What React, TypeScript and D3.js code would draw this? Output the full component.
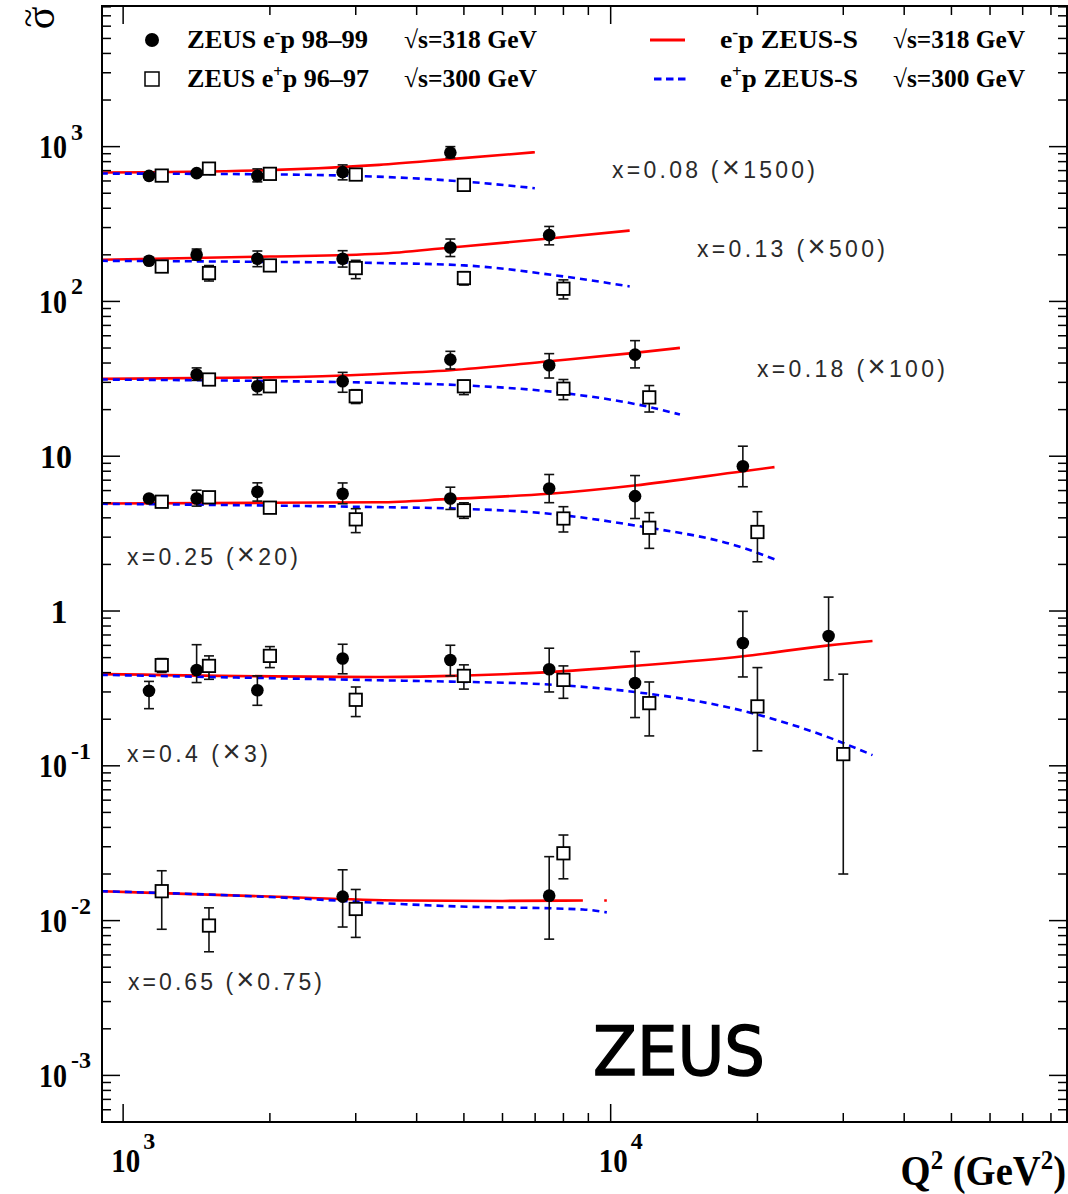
import React from 'react';
import * as d3 from 'd3';

const W = 1068, H = 1194;
const frame = { left: 102, right: 1067, top: 6, bottom: 1122 };

// axis ranges (Q2 in GeV^2, reduced cross section)
const q2Domain = [905, 86300];
const sigmaDomain = [5e-4, 8100];

// ZEUS e-p 98-99 : [Q2, sigma, +err, -err]
const emX008 = [[1130, 647, 22, 22], [1415, 674, 24, 24], [1885, 647, 71, 55], [2820, 684, 78, 74], [4690, 915, 85, 69]];
const emX013 = [[1130, 183, 8, 8], [1415, 200, 18, 15], [1885, 188.7, 23, 21], [2820, 188.7, 24, 22], [4690, 223, 30, 28], [7480, 268, 37, 36]];
const emX018 = [[1415, 33.7, 3.5, 2.8], [1885, 28.3, 3.8, 3.3], [2820, 30.5, 4.3, 4.6], [4690, 42.1, 5.5, 5.5], [7480, 38.7, 7.3, 6.7], [11220, 45.3, 10.5, 8.1]];
const emX025 = [[1130, 5.33, 0.2, 0.2], [1415, 5.33, 0.7, 0.57], [1885, 5.89, 0.84, 0.76], [2820, 5.72, 1.0, 0.79], [4690, 5.33, 0.98, 0.8], [7480, 6.19, 1.43, 1.18], [11220, 5.52, 1.98, 1.56], [18670, 8.61, 3.0, 2.26]];
const emX040 = [[1130, 0.305, 0.046, 0.071], [1415, 0.416, 0.19, 0.071], [1885, 0.308, 0.073, 0.062], [2820, 0.493, 0.117, 0.1], [4690, 0.483, 0.118, 0.102], [7480, 0.421, 0.154, 0.121], [11220, 0.343, 0.204, 0.138], [18670, 0.622, 0.373, 0.247], [27990, 0.69, 0.54, 0.331]];
const emX065 = [[2820, 0.01429, 0.007, 0.0052], [7480, 0.01449, 0.0114, 0.0069]];

// ZEUS e+p 96-97 : [Q2, sigma, +err, -err]
const epX008 = [[1200, 650, 15, 15], [1500, 721, 15, 15], [2000, 667, 15, 15], [3000, 660, 15, 15], [5000, 566, 15, 15]];
const epX013 = [[1200, 168, 6, 6], [1500, 152.5, 18, 17], [2000, 170.8, 6, 6], [3000, 164.3, 20, 24], [5000, 141.6, 14, 14], [8000, 120.8, 17, 17]];
const epX018 = [[1500, 31.3, 1.5, 1.5], [2000, 28.3, 1.5, 1.5], [3000, 24.4, 2.5, 2.5], [5000, 28.3, 2.6, 3.3], [8000, 27.3, 4, 4.1], [12000, 24.0, 4.6, 4.7]];
const epX025 = [[1200, 5.08, 0.2, 0.2], [1500, 5.43, 0.3, 0.3], [2000, 4.65, 0.3, 0.3], [3000, 3.91, 0.67, 0.7], [5000, 4.47, 0.53, 0.5], [8000, 3.96, 0.76, 0.72], [12000, 3.45, 0.87, 0.91], [20000, 3.24, 1.14, 1.16]];
const epX040 = [[1200, 0.447, 0.046, 0.046], [1500, 0.442, 0.071, 0.08], [2000, 0.513, 0.076, 0.082], [3000, 0.267, 0.056, 0.059], [5000, 0.381, 0.068, 0.068], [8000, 0.359, 0.083, 0.086], [12000, 0.254, 0.094, 0.098], [20000, 0.242, 0.189, 0.117], [30000, 0.119, 0.272, 0.099]];
const epX065 = [[1200, 0.01549, 0.0055, 0.0067], [1500, 0.00929, 0.0028, 0.003], [3000, 0.01189, 0.004, 0.0041], [8000, 0.02722, 0.0085, 0.0086]];

// ZEUS-S predictions : [Q2, sigma]
const fitEm008 = [[900, 680], [2000, 705], [3350, 762], [4690, 830], [6990, 920]];
const fitEm013 = [[900, 186], [2000, 195], [3350, 203], [4690, 223], [7480, 255], [10940, 287]];
const fitEm018 = [[900, 31.6], [2000, 32.3], [3350, 34], [4690, 35.9], [7480, 41.1], [11200, 46.5], [13870, 50.1]];
const fitEm025 = [[900, 4.95], [2000, 5.0], [3350, 5.04], [4690, 5.3], [7480, 5.72], [11200, 6.47], [18700, 8.0], [21680, 8.5]];
const fitEm040 = [[900, 0.391], [3350, 0.375], [4690, 0.381], [7480, 0.403], [11200, 0.442], [18700, 0.51], [28000, 0.6], [34440, 0.64]];
const fitEm065 = [[900, 0.0155], [2000, 0.0143], [3700, 0.0135], [6000, 0.0134], [8770, 0.0135], [NaN, NaN], [9700, 0.0135], [9820, 0.0135]];

const fitEp008 = [[900, 670], [2000, 662], [3680, 631], [5000, 595], [6990, 539]];
const fitEp013 = [[900, 183], [2000, 180], [3350, 177], [5000, 171], [8000, 145], [10940, 125]];
const fitEp018 = [[900, 31.3], [2000, 30.6], [3350, 29.8], [5000, 28.7], [8000, 25.6], [12000, 20.8], [13870, 18.6]];
const fitEp025 = [[900, 4.93], [3350, 4.69], [4690, 4.6], [7480, 4.25], [11200, 3.57], [18700, 2.56], [21680, 2.16]];
const fitEp040 = [[900, 0.387], [3350, 0.357], [4690, 0.35], [7480, 0.335], [11200, 0.3], [18700, 0.2264], [28000, 0.1526], [34440, 0.1173]];
const fitEp065 = [[900, 0.0155], [2000, 0.0142], [3700, 0.0128], [4660, 0.0124], [8770, 0.0118], [9820, 0.0113]];

const emSets = [emX008, emX013, emX018, emX025, emX040, emX065];
const epSets = [epX008, epX013, epX018, epX025, epX040, epX065];
const fitsEm = [fitEm008, fitEm013, fitEm018, fitEm025, fitEm040, fitEm065];
const fitsEp = [fitEp008, fitEp013, fitEp018, fitEp025, fitEp040, fitEp065];

// bin labels: [x value, scale factor]
const binX = ['0.08', '0.13', '0.18', '0.25', '0.4', '0.65'];
const binScale = ['1500', '500', '100', '20', '3', '0.75'];
const binLabelPos = [[612, 178, 203], [697, 257, 188], [757, 377, 188], [127, 565, 171], [127, 762, 141], [128, 990, 194]];

const yExponents = [-3, -2, -1, 0, 1, 2, 3];
const xExponents = [3, 4];

const serif = '"Liberation Serif", "Times New Roman", serif';
const sans = '"Liberation Sans", Arial, sans-serif';

const x = d3.scaleLog().domain(q2Domain).range([frame.left, frame.right]);
const y = d3.scaleLog().domain(sigmaDomain).range([frame.bottom, frame.top]);

const isMajor = (v: number) => Math.abs(Math.log10(v) - Math.round(Math.log10(v))) < 1e-6;

const line = d3.line<number[]>()
    .defined(d => !isNaN(d[0]))
    .x(d => x(d[0]))
    .y(d => y(d[1]))
    .curve(d3.curveMonotoneX);

function ErrorBar({ d }: { d: number[] }) {
    const cx = x(d[0]);
    const y1 = y(d[1] + d[2]);
    const y2 = y(d[1] - d[3]);
    return (
        <g stroke="#111" strokeWidth={1.6}>
            <line x1={cx} x2={cx} y1={y1} y2={y2} />
            <line x1={cx - 5} x2={cx + 5} y1={y1} y2={y1} />
            <line x1={cx - 5} x2={cx + 5} y1={y2} y2={y2} />
        </g>
    );
}

function Ticks() {
    const xt = x.ticks().filter(v => v >= q2Domain[0] && v <= q2Domain[1]);
    const yt = y.ticks().filter(v => v >= sigmaDomain[0] && v <= sigmaDomain[1]);
    return (
        <g stroke="#000" strokeWidth={1.5}>
            {xt.map((v, i) => {
                const len = isMajor(v) ? 18 : 9;
                return (
                    <g key={'x' + i}>
                        <line x1={x(v)} x2={x(v)} y1={frame.bottom} y2={frame.bottom - len} />
                        <line x1={x(v)} x2={x(v)} y1={frame.top} y2={frame.top + len} />
                    </g>
                );
            })}
            {yt.map((v, i) => {
                const len = isMajor(v) ? 18 : 9;
                return (
                    <g key={'y' + i}>
                        <line x1={frame.left} x2={frame.left + len} y1={y(v)} y2={y(v)} />
                        <line x1={frame.right} x2={frame.right - len} y1={y(v)} y2={y(v)} />
                    </g>
                );
            })}
        </g>
    );
}

function YLabels() {
    return (
        <g fontFamily={serif} fontWeight="bold" fill="#000">
            {yExponents.map(e => {
                const ty = y(Math.pow(10, e));
                if (e === 0) {
                    return <text key={e} x={59} y={ty + 11.5} fontSize={34} textAnchor="middle">1</text>;
                }
                if (e === 1) {
                    return <text key={e} x={40} y={ty + 11.5} fontSize={34} textLength={32} lengthAdjust="spacingAndGlyphs">10</text>;
                }
                return (
                    <g key={e}>
                        <text x={39} y={ty + 11.5} fontSize={34} textLength={28} lengthAdjust="spacingAndGlyphs">10</text>
                        <text x={71} y={ty - 7} fontSize={24}>{e < 0 ? '-' + Math.abs(e) : String(e)}</text>
                    </g>
                );
            })}
        </g>
    );
}

function XLabels() {
    return (
        <g fontFamily={serif} fontWeight="bold" fill="#000">
            {xExponents.map(e => {
                const tx = x(Math.pow(10, e));
                return (
                    <g key={e}>
                        <text x={tx - 12} y={1172} fontSize={34} textLength={29} lengthAdjust="spacingAndGlyphs">10</text>
                        <text x={tx + 20} y={1149} fontSize={24}>{String(e)}</text>
                    </g>
                );
            })}
            <g transform="translate(1066,1185) scale(0.92,1)">
                <text x={0} y={0} fontSize={42} textAnchor="end">
                    Q<tspan dy={-16} fontSize={27}>2</tspan><tspan dy={16} fontSize={42}> (GeV</tspan><tspan dy={-16} fontSize={27}>2</tspan><tspan dy={16} fontSize={42}>)</tspan>
                </text>
            </g>
            <g transform="translate(43,18) rotate(-90)" fontWeight="normal">
                <text x={0} y={11} fontSize={42} textAnchor="middle">σ</text>
                <text x={0} y={-4} fontSize={34} textAnchor="middle">~</text>
            </g>
        </g>
    );
}

function Legend() {
    const fs = 25;
    return (
        <g fontFamily={serif} fontWeight="bold" fontSize={fs} fill="#000" style={{ whiteSpace: 'pre' }}>
            <circle cx={152} cy={40} r={7} fill="#000" />
            <text x={187} y={48} textLength={181} lengthAdjust="spacingAndGlyphs">ZEUS e<tspan dy={-10} fontSize={16}>-</tspan><tspan dy={10} fontSize={fs}>p 98–99</tspan></text>
            <text x={404} y={48} textLength={133} lengthAdjust="spacingAndGlyphs">√s=318 GeV</text>
            <rect x={145} y={72} width={14} height={14} fill="#fff" stroke="#000" strokeWidth={1.5} />
            <text x={187} y={87} textLength={182} lengthAdjust="spacingAndGlyphs">ZEUS e<tspan dy={-10} fontSize={16}>+</tspan><tspan dy={10} fontSize={fs}>p 96–97</tspan></text>
            <text x={404} y={87} textLength={133} lengthAdjust="spacingAndGlyphs">√s=300 GeV</text>

            <line x1={650} x2={685} y1={40} y2={40} stroke="#ff0000" strokeWidth={3} />
            <text x={720} y={48} textLength={138} lengthAdjust="spacingAndGlyphs">e<tspan dy={-10} fontSize={16}>-</tspan><tspan dy={10} fontSize={fs}>p  ZEUS-S</tspan></text>
            <text x={893} y={48} textLength={132} lengthAdjust="spacingAndGlyphs">√s=318 GeV</text>
            <line x1={654} x2={686} y1={79} y2={79} stroke="#0000ff" strokeWidth={3} strokeDasharray="7.5,4.5" />
            <text x={720} y={87} textLength={138} lengthAdjust="spacingAndGlyphs">e<tspan dy={-10} fontSize={16}>+</tspan><tspan dy={10} fontSize={fs}>p  ZEUS-S</tspan></text>
            <text x={893} y={87} textLength={132} lengthAdjust="spacingAndGlyphs">√s=300 GeV</text>
        </g>
    );
}

export default function App() {
    return (
        <svg width={W} height={H} style={{ position: 'absolute', left: 0, top: 0, background: '#fff' }}>
            <defs>
                <clipPath id="plotArea">
                    <rect x={frame.left} y={frame.top} width={frame.right - frame.left} height={frame.bottom - frame.top} />
                </clipPath>
            </defs>
            <rect x={0} y={0} width={W} height={H} fill="#fff" />

            <g clipPath="url(#plotArea)">
                {fitsEm.map((f, i) => (
                    <path key={'fm' + i} d={line(f) || ''} fill="none" stroke="#ff0000" strokeWidth={2.6} />
                ))}
                {fitsEp.map((f, i) => (
                    <path key={'fp' + i} d={line(f) || ''} fill="none" stroke="#0000ff" strokeWidth={2.6} strokeDasharray="7,5" />
                ))}
                {emSets.map((s, i) => s.map((d, j) => <ErrorBar key={'em' + i + '-' + j} d={d} />))}
                {epSets.map((s, i) => s.map((d, j) => <ErrorBar key={'ep' + i + '-' + j} d={d} />))}
                {emSets.map((s, i) => s.map((d, j) => (
                    <circle key={'cm' + i + '-' + j} cx={x(d[0])} cy={y(d[1])} r={6.3} fill="#000" />
                )))}
                {epSets.map((s, i) => s.map((d, j) => (
                    <rect key={'cp' + i + '-' + j} x={x(d[0]) - 6.2} y={y(d[1]) - 6.2} width={12.4} height={12.4}
                        fill="#fff" stroke="#000" strokeWidth={1.8} />
                )))}
            </g>

            <g fontFamily={sans} fontSize={23} fill="#2a2a2a">
                {binX.map((bx, i) => (
                    <text key={bx} x={binLabelPos[i][0]} y={binLabelPos[i][1]} textLength={binLabelPos[i][2]} lengthAdjust="spacing">
                        {'x=' + bx + ' ('}<tspan fontSize={31}>×</tspan>{binScale[i] + ')'}
                    </text>
                ))}
            </g>

            <text x={593} y={1075} fontFamily='"DejaVu Sans", sans-serif' fontSize={68} textLength={172}
                lengthAdjust="spacingAndGlyphs" fill="#000" stroke="#000" strokeWidth={1.5}>ZEUS</text>

            <Ticks />
            <rect x={frame.left} y={frame.top} width={frame.right - frame.left} height={frame.bottom - frame.top}
                fill="none" stroke="#000" strokeWidth={2} />

            <YLabels />
            <XLabels />
            <Legend />
        </svg>
    );
}
